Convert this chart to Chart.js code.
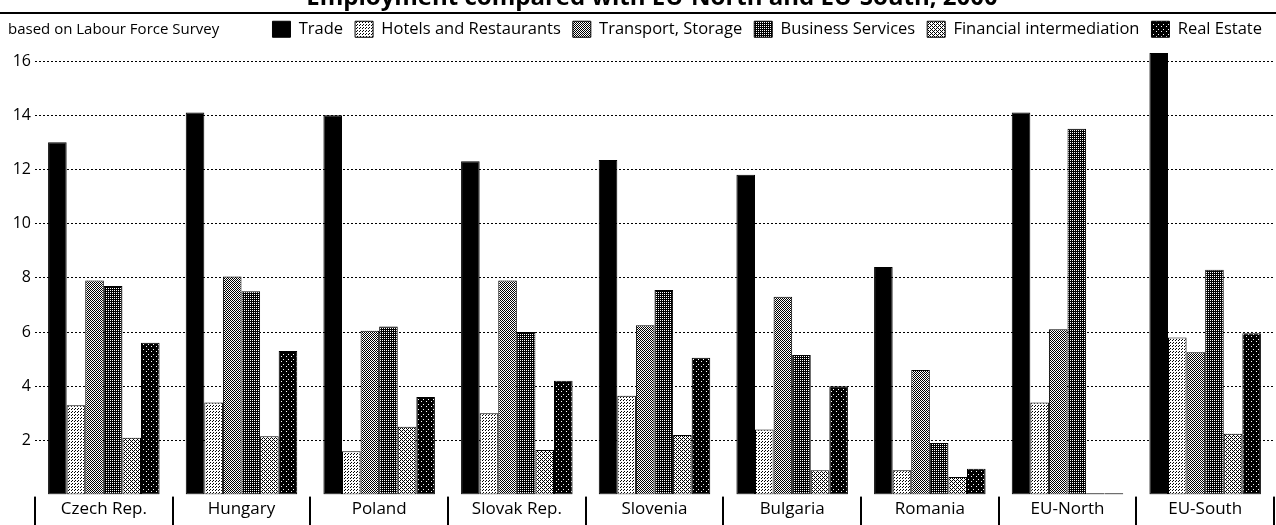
<!DOCTYPE html>
<html><head><meta charset="utf-8">
<script src="https://cdn.jsdelivr.net/npm/chart.js@4.4.1/dist/chart.umd.min.js"></script>
<style>html,body{margin:0;padding:0;background:#fff;}#wrap{width:1276px;height:525px;position:relative;}</style>
</head><body><div id="wrap"><canvas id="c"></canvas></div>
<script>
// ---- data ----
const titleText = 'Employment compared with EU-North and EU-South, 2000';
const noteText = 'based on Labour Force Survey';
const categories = ['Czech Rep.','Hungary','Poland','Slovak Rep.','Slovenia','Bulgaria','Romania','EU-North','EU-South'];
const seriesNames = ['Trade','Hotels and Restaurants','Transport, Storage','Business Services','Financial intermediation','Real Estate'];
const trade      = [13.0, 14.1, 14.0, 12.3, 12.35, 11.8, 8.4, 14.1, 16.3];
const hotels     = [3.3, 3.4, 1.6, 3.0, 3.65, 2.4, 0.9, 3.4, 5.8];
const transport  = [7.9, 8.05, 6.05, 7.9, 6.25, 7.3, 4.6, 6.1, 5.25];
const business   = [7.7, 7.5, 6.2, 6.0, 7.55, 5.15, 1.9, 13.5, 8.3];
const financial  = [2.1, 2.15, 2.5, 1.65, 2.2, 0.9, 0.65, 0.05, 2.25];
const realEstate = [5.6, 5.3, 3.6, 4.2, 5.05, 4.0, 0.95, 0.05, 5.95];
const yTicks = [2, 4, 6, 8, 10, 12, 14, 16];
const yMax = 16.5;

// ---- patterns ----
function makePattern(size, isBlack) {
  const c = document.createElement('canvas');
  c.width = size; c.height = size;
  const g = c.getContext('2d');
  g.fillStyle = '#fff'; g.fillRect(0, 0, size, size);
  g.fillStyle = '#000';
  for (let y = 0; y < size; y++) for (let x = 0; x < size; x++) if (isBlack(x, y)) g.fillRect(x, y, 1, 1);
  return g.createPattern(c, 'repeat');
}
const fills = [
  '#000',
  makePattern(3, (x, y) => (x === 0 && y === 0) || (x === 2 && y === 1)),
  makePattern(2, (x, y) => (x + y) % 2 === 0),
  makePattern(4, (x, y) => !((x === 0 && y === 0) || (x === 2 && y === 2) || (x === 2 && y === 0) || (x === 0 && y === 2))),
  makePattern(4, (x, y) => (x + y) % 2 === 0 && !(x === 3 && y === 3) && !(x === 1 && y === 1)),
  makePattern(5, (x, y) => !((x === 1 && y === 1) || (x === 3 && y === 4)))
];
const seriesData = [trade, hotels, transport, business, financial, realEstate];

const textPlugin = {
  id: 'texts',
  afterDraw(chart) {
    const ctx = chart.ctx;
    ctx.save();
    ctx.fillStyle = '#000';
    ctx.font = 'bold 24px "Open Sans"';
    ctx.textAlign = 'center';
    ctx.textBaseline = 'alphabetic';
    ctx.fillText(titleText, 652, 5);
    ctx.fillRect(0, 12, chart.width, 2);
    const hb = chart.legend.legendHitBoxes[0];
    ctx.font = '15px "Open Sans"';
    ctx.textAlign = 'left';
    ctx.textBaseline = 'middle';
    ctx.fillText(noteText, 8, hb.top + hb.height / 2);
    // category separators at the band boundaries of the x scale
    const xs = chart.scales.x;
    const n = categories.length;
    const band = (xs.right - xs.left) / n;
    ctx.fillStyle = '#000';
    for (let i = 0; i <= n; i++) {
      const px = Math.round(xs.getPixelForValue(0) - band / 2 + i * band);
      ctx.fillRect(px - 1, xs.top + 2, 2, chart.height - xs.top - 2);
    }
    ctx.restore();
  }
};

new Chart(document.getElementById('c'), {
  type: 'bar',
  data: {
    labels: categories,
    datasets: seriesNames.map((n, i) => ({
      label: n,
      data: seriesData[i],
      backgroundColor: fills[i],
      borderColor: '#000',
      borderWidth: 1,
      borderSkipped: false,
      categoryPercentage: 0.81,
      barPercentage: 1.0
    }))
  },
  options: {
    responsive: true,
    maintainAspectRatio: false,
    animation: false,
    layout: { padding: { top: 9, right: 2, bottom: 2, left: 0 } },
    plugins: {
      tooltip: { enabled: false },
      title: { display: false },
      legend: {
        display: true,
        position: 'top',
        align: 'end',
        labels: {
          boxWidth: 18, boxHeight: 16, padding: 12,
          color: '#000',
          font: { family: 'Open Sans', size: 16.5 }
        }
      }
    },
    scales: {
      x: {
        grid: { display: false, drawTicks: false },
        border: { display: false },
        ticks: { padding: 4, color: '#000', font: { family: 'Open Sans', size: 17 }, maxRotation: 0 }
      },
      y: {
        min: 0, max: yMax,
        afterBuildTicks: (axis) => { axis.ticks = yTicks.map(v => ({ value: v })); },
        afterFit: (axis) => { axis.width = 35; },
        grid: { drawTicks: false, color: '#000', lineWidth: 1 },
        border: { display: false, dash: [2, 2] },
        ticks: { padding: 4, color: '#000', font: { family: 'Open Sans', size: 16 } }
      }
    }
  },
  plugins: [textPlugin]
});
</script>
</body></html>
